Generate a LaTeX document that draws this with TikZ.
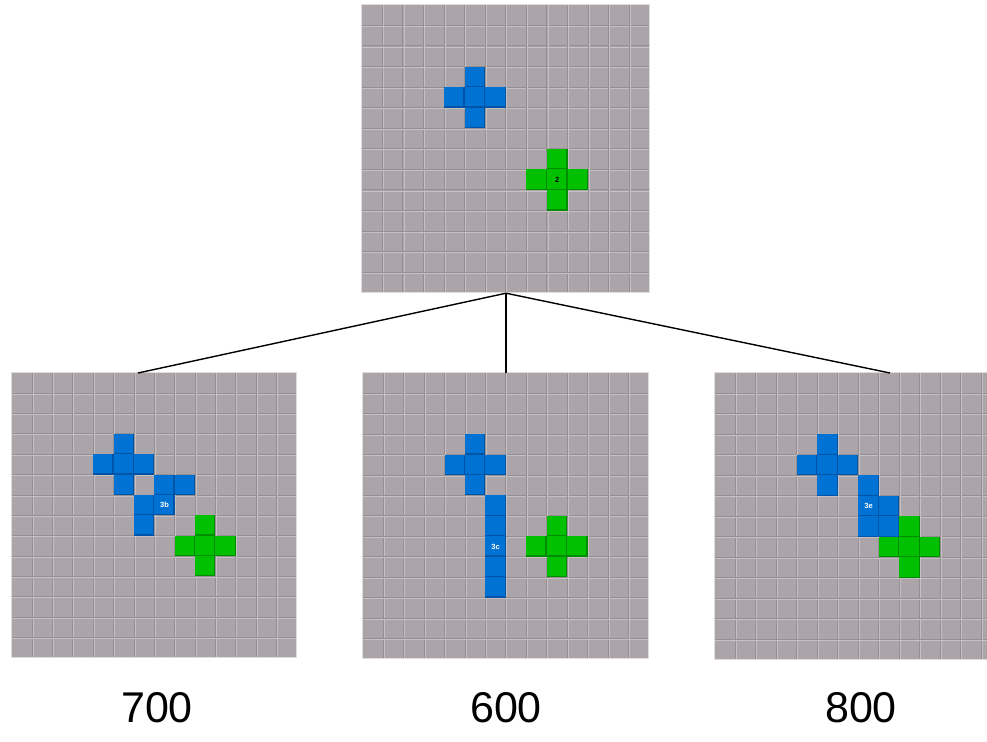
\documentclass[tikz,border=0pt]{standalone}
\usepackage{fontspec}
\setmainfont{Liberation Sans}
\usetikzlibrary{calc}

\definecolor{boardgray}{RGB}{171,165,170}
\definecolor{gridshade}{RGB}{148,143,147}
\definecolor{gridlight}{RGB}{196,192,195}
\definecolor{boardrim}{RGB}{222,220,222}
\definecolor{pieceblue}{RGB}{0,114,212}
\definecolor{pieceblueedge}{RGB}{0,84,166}
\definecolor{piecegreen}{RGB}{0,192,0}
\definecolor{piecegreenedge}{RGB}{0,140,0}

\tikzset{
  board/.style={fill=boardgray, draw=none, inner sep=0pt, minimum width=#1, minimum height=#1},
  branch/.style={draw=black, line width=1.4pt},
  numlabel/.style={font=\fontsize{43}{43}\selectfont, inner sep=0pt},
  celltag/.style={font=\fontsize{7.5}{7.5}\selectfont\bfseries, inner sep=0pt},
}

% grooved 14x14 grid in the current (cell-unit) scope
\newcommand\boardlines{%
  \foreach \i in {1,...,13} {
    \draw[gridshade, line width=0.9pt] (\i,0) -- (\i,14);
    \draw[gridshade, line width=0.9pt] (0,\i) -- (14,\i);
    \draw[gridlight, line width=0.6pt] ([xshift=0.9pt]\i,0) -- ([xshift=0.9pt]\i,14);
    \draw[gridlight, line width=0.6pt] ([yshift=-0.9pt]0,\i) -- ([yshift=-0.9pt]14,\i);
  }
  \draw[boardrim, line width=1.2pt] (0,0) rectangle (14,14);
}

% one coloured square at column #2, row #3
\newcommand\tile[3]{%
  \fill[#1] (#2,#3) rectangle (#2+1,#3+1);
  \draw[#1edge, line width=1.2pt]
    ([yshift=0.6pt]#2,#3+1) -- ([xshift=-0.6pt,yshift=0.6pt]#2+1,#3+1)
    -- ([xshift=-0.6pt]#2+1,#3);
}

% plus-shaped piece centred on column #2, row #3
\newcommand\plusshape[3]{%
  \tile{#1}{#2}{#3-1}
  \tile{#1}{#2-1}{#3}
  \tile{#1}{#2}{#3}
  \tile{#1}{#2+1}{#3}
  \tile{#1}{#2}{#3+1}
}

\begin{document}
\begin{tikzpicture}[x=1pt, y=-1pt]
\useasboundingbox (0,0) rectangle (987,741);

% parent board
\node[board=288pt] (top) at (506,149) {};
\begin{scope}[shift={(top.north west)}, x=20.57pt, y=-20.57pt]
  \boardlines
  \plusshape{pieceblue}{5}{4}
  \plusshape{piecegreen}{9}{8}
  \node[celltag, text=black] (t2) at (9.5,8.5) {2};
\end{scope}

% child board: move 3b
\node[board=285pt] (left) at (154.5,515.5) {};
\begin{scope}[shift={(left.north west)}, x=20.36pt, y=-20.36pt]
  \boardlines
  \plusshape{pieceblue}{5}{4}
  \tile{pieceblue}{7}{5}
  \tile{pieceblue}{8}{5}
  \tile{pieceblue}{6}{6}
  \tile{pieceblue}{7}{6}
  \tile{pieceblue}{6}{7}
  \plusshape{piecegreen}{9}{8}
  \node[celltag, text=white] (t3b) at (7.5,6.5) {3b};
\end{scope}

% child board: move 3c
\node[board=286pt] (mid) at (506,516) {};
\begin{scope}[shift={(mid.north west)}, x=20.43pt, y=-20.43pt]
  \boardlines
  \plusshape{pieceblue}{5}{4}
  \foreach \r in {6,...,10} { \tile{pieceblue}{6}{\r} }
  \plusshape{piecegreen}{9}{8}
  \node[celltag, text=white] (t3c) at (6.5,8.5) {3c};
\end{scope}

% child board: move 3e (runs past the right edge)
\begin{scope}
  \clip (0,0) rectangle (987,741);
  \node[board=287pt] (right) at (858.5,516.5) {};
  \begin{scope}[shift={(right.north west)}, x=20.5pt, y=-20.5pt]
    \boardlines
    \plusshape{pieceblue}{5}{4}
    \tile{pieceblue}{7}{5}
    \tile{pieceblue}{7}{6}
    \tile{pieceblue}{8}{6}
    \tile{pieceblue}{7}{7}
    \tile{pieceblue}{8}{7}
    \plusshape{piecegreen}{9}{8}
    \node[celltag, text=white] (t3e) at (7.5,6.5) {3e};
  \end{scope}
\end{scope}

% branches from the parent to each child
\coordinate (lefttop) at (138,373);
\coordinate (righttop) at (890,373);
\draw[branch] (top.south) -- (lefttop);
\draw[branch] (top.south) -- (mid.north);
\draw[branch] (top.south) -- (righttop);

% scores
\node[numlabel] (s700) at (157,708) {700};
\node[numlabel] (s600) at (506,708) {600};
\node[numlabel] (s800) at (861,708) {800};
\end{tikzpicture}
\end{document}
